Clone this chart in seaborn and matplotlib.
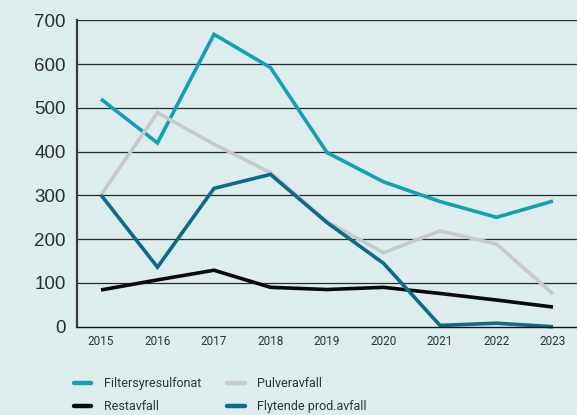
import pandas as pd
import seaborn as sns
import matplotlib.pyplot as plt

years = [2015, 2016, 2017, 2018, 2019, 2020, 2021, 2022, 2023]
filtersyresulfonat = [520, 420, 668, 592, 398, 331, 286, 250, 287]
pulveravfall = [301, 489, 417, 352, 240, 169, 219, 189, 75]
restavfall = [84, 107, 129, 90, 85, 90, 76, 61, 45]
flytende = [301, 136, 316, 348, 238, 145, 3, 8, 0]

series = ['Filtersyresulfonat', 'Pulveravfall', 'Restavfall', 'Flytende prod.avfall']
colors = ['#12a0b4', '#c9c9c9', '#0a0a0a', '#0e6b86']

df = pd.DataFrame({'year': years,
                   'Filtersyresulfonat': filtersyresulfonat,
                   'Pulveravfall': pulveravfall,
                   'Restavfall': restavfall,
                   'Flytende prod.avfall': flytende})
long = df.melt(id_vars='year', var_name='serie', value_name='verdi')

bg = '#ddecec'
sns.set_style('white')
plt.rcParams['font.family'] = ['Roboto', 'DejaVu Sans']

fig = plt.figure(figsize=(5.77, 4.15), dpi=100, facecolor=bg)
ax = fig.add_axes([0.1334, 0.2127, 0.8666, 0.7384])
ax.set_facecolor(bg)

for y in range(100, 800, 100):
    ax.axhline(y, color='#2a2a2a', lw=0.9, zorder=0)

sns.lineplot(data=long, x='year', y='verdi', hue='serie', hue_order=series,
             palette=colors, lw=2.6, ax=ax, legend=False, clip_on=False)
for line in ax.lines:
    line.set_solid_capstyle('butt')
    line.set_solid_joinstyle('miter')

ax.set_xlim(2014.575, 2023.425)
ax.set_ylim(0, 700)
ax.set_xticks(years)
ax.set_xticklabels([str(y) for y in years], fontsize=8.5, color='#333333')
ax.set_yticks(range(0, 800, 100))
ax.set_yticklabels([str(v) for v in range(0, 800, 100)], fontsize=13.5,
                   color='#2e2e2e', family=['Liberation Sans', 'DejaVu Sans'])
ax.tick_params(length=0, pad=6)
ax.tick_params(axis='y', pad=8)
ax.set_xlabel('')
ax.set_ylabel('')
for s in ['top', 'right']:
    ax.spines[s].set_visible(False)
ax.spines['left'].set_color('#3a3a3a')
ax.spines['left'].set_linewidth(1.6)
ax.spines['bottom'].set_color('#111111')
ax.spines['bottom'].set_linewidth(1.0)

handles = [plt.Line2D([], [], color=c, lw=3.2, solid_capstyle='round') for c in colors]
order = [0, 2, 1, 3]
fig.legend([handles[i] for i in order], [series[i] for i in order],
           ncol=2, loc='upper left', bbox_to_anchor=(0.108, 0.118),
           frameon=False, fontsize=9, handlelength=1.4, handletextpad=1.0,
           columnspacing=2.1, labelspacing=0.8, labelcolor='#333333')

fig.savefig('out.png', dpi=100, facecolor=bg)
